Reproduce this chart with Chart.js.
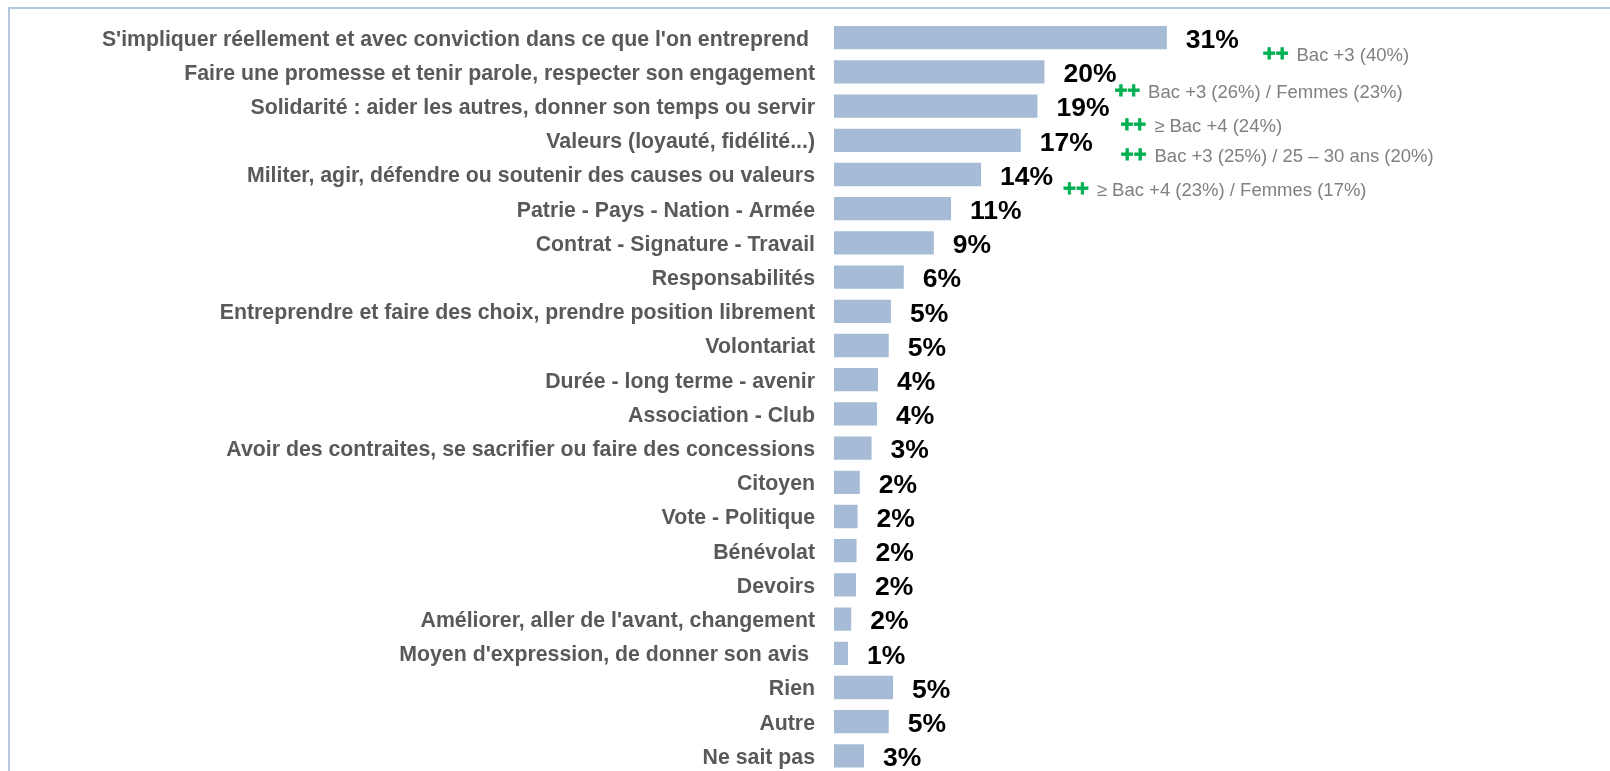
<!DOCTYPE html>
<html lang="fr">
<head>
<meta charset="utf-8">
<title>Engagement</title>
<script src="https://cdn.jsdelivr.net/npm/chart.js@4"></script>
<style>
    html, body { margin: 0; padding: 0; background: #fff; overflow: hidden; width: 1610px; height: 771px; }
    #frame { position: absolute; left: 8px; top: 7px; width: 1700px; height: 900px; border: 2px solid #b6c8dd; box-sizing: border-box; }
    #wrap { position: absolute; left: 0; top: 0; width: 1610px; height: 776px; }
</style>
</head>
<body>
<div id="frame"></div>
<div id="wrap"><canvas id="chart"></canvas></div>
<script>
// categories (ordre du graphique, de haut en bas)
const categories = [
    "S'impliquer réellement et avec conviction dans ce que l'on entreprend ",
    "Faire une promesse et tenir parole, respecter son engagement",
    "Solidarité : aider les autres, donner son temps ou servir",
    "Valeurs (loyauté, fidélité...)",
    "Militer, agir, défendre ou soutenir des causes ou valeurs",
    "Patrie - Pays - Nation - Armée",
    "Contrat - Signature - Travail",
    "Responsabilités",
    "Entreprendre et faire des choix, prendre position librement",
    "Volontariat",
    "Durée - long terme - avenir",
    "Association - Club",
    "Avoir des contraites, se sacrifier ou faire des concessions",
    "Citoyen",
    "Vote - Politique",
    "Bénévolat",
    "Devoirs",
    "Améliorer, aller de l'avant, changement",
    "Moyen d'expression, de donner son avis ",
    "Rien",
    "Autre",
    "Ne sait pas"
];

// longueurs des barres (%)
const values = [31.0, 19.6, 18.95, 17.4, 13.7, 10.9, 9.3, 6.5, 5.3, 5.1, 4.1, 4.0, 3.5, 2.4, 2.2, 2.1, 2.05, 1.6, 1.3, 5.5, 5.1, 2.8];

// étiquettes affichées
const valueLabels = ['31%', '20%', '19%', '17%', '14%', '11%', '9%', '6%', '5%', '5%', '4%', '4%', '3%', '2%', '2%', '2%', '2%', '2%', '1%', '5%', '5%', '3%'];

// sur-représentations (lignes 0 à 4)
const notes = [
    'Bac +3 (40%)',
    'Bac +3 (26%) / Femmes (23%)',
    '≥ Bac +4 (24%)',
    'Bac +3 (25%) / 25 – 30 ans (20%)',
    '≥ Bac +4 (23%) / Femmes (17%)'
];

const FONT = "'Liberation Sans', Arial, sans-serif";

// décalage des notes par rapport au bout de la barre
const noteOffsets = [
    { dx: 96, dy: 17 },
    { dx: 70, dy: 20 },
    { dx: 83, dy: 20 },
    { dx: 100, dy: 16 },
    { dx: 82, dy: 15 }
];

const labelsPlugin = {
    id: 'labelsPlugin',
    afterDatasetsDraw(chart) {
        const ctx = chart.ctx;
        const meta = chart.getDatasetMeta(0);
        ctx.save();
        meta.data.forEach((bar, i) => {
            // valeur
            ctx.font = `bold 26.5px ${FONT}`;
            ctx.fillStyle = '#000';
            ctx.textAlign = 'left';
            ctx.textBaseline = 'middle';
            ctx.fillText(valueLabels[i], bar.x + 19, bar.y + 3);

            // note
            if (i < notes.length) {
                const off = noteOffsets[i];
                const x = bar.x + off.dx;
                const y = bar.y + off.dy;
                ctx.font = `bold 22px ${FONT}`;
                ctx.fillStyle = '#00b050';
                ctx.strokeStyle = '#00b050';
                ctx.lineWidth = 0.8;
                ctx.fillText('++', x, y);
                ctx.strokeText('++', x, y);
                const w = ctx.measureText('++').width;
                ctx.font = `18.5px ${FONT}`;
                ctx.fillStyle = '#808080';
                ctx.fillText(notes[i], x + w + 8, y + 1);
            }
        });
        ctx.restore();
    }
};

const ctx = document.getElementById('chart').getContext('2d');
new Chart(ctx, {
    type: 'bar',
    data: {
        labels: categories,
        datasets: [{
            data: values,
            backgroundColor: '#a6bcd6',
            borderWidth: 0,
            barPercentage: 0.68,
            categoryPercentage: 1
        }]
    },
    options: {
        indexAxis: 'y',
        responsive: true,
        maintainAspectRatio: false,
        animation: false,
        layout: { padding: { top: 20.6, bottom: 3, left: 0, right: 3 } },
        plugins: {
            legend: { display: false },
            tooltip: { enabled: false }
        },
        scales: {
            x: {
                display: false,
                min: 0,
                max: 72
            },
            y: {
                grid: { display: false, drawTicks: false },
                border: { display: false },
                ticks: {
                    color: '#595959',
                    padding: 19,
                    labelOffset: 2,
                    font: { family: FONT, size: 21.3, weight: 'bold' }
                },
                afterFit(scale) {
                    scale.width = 834;
                    scale.paddingTop = 0;
                    scale.paddingBottom = 0;
                }
            }
        }
    },
    plugins: [labelsPlugin]
});
</script>
</body>
</html>
